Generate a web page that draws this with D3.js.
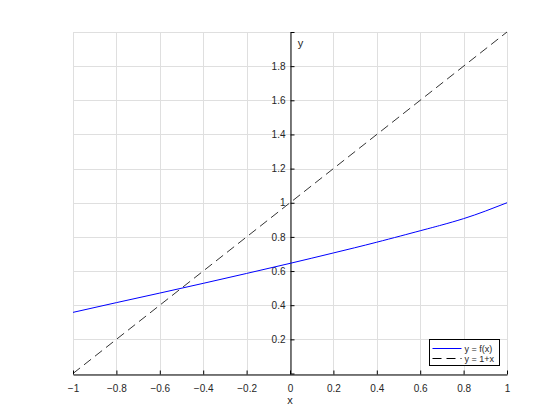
<!DOCTYPE html>
<html>
<meta charset="utf-8">
<script src="https://cdn.jsdelivr.net/npm/d3@7"></script>
<style>
  body { margin: 0; background: white; }
  text { font-family: "Liberation Sans", Arial, sans-serif; fill: #262626; }
</style>
<body>
<div id="chart"></div>
<script>
// values
var xs = [-1, -0.8, -0.6, -0.4, -0.2, 0, 0.2, 0.4, 0.6, 0.7, 0.8, 0.9, 1];
var fx = [0.358, 0.415, 0.471, 0.528, 0.586, 0.645, 0.706, 0.769, 0.836, 0.870, 0.907, 0.951, 1.0];
var lineX = [-1, 1];
var lineY = [0, 2];
var xTicks = [-1, -0.8, -0.6, -0.4, -0.2, 0, 0.2, 0.4, 0.6, 0.8, 1];
var yTicks = [0, 0.2, 0.4, 0.6, 0.8, 1, 1.2, 1.4, 1.6, 1.8, 2];
var legendLabels = ["y = f(x)", "y = 1+x"];

var width = 560, height = 420;
var svg = d3.select("#chart").append("svg")
  .attr("width", width).attr("height", height)
  .style("background", "white");

var x = d3.scaleLinear().domain([-1, 1]).range([73, 507]);
var y = d3.scaleLinear().domain([0, 2]).range([373.5, 32]);

// grid
var grid = svg.append("g").attr("stroke", "#dfdfdf").attr("stroke-width", 1);
grid.selectAll(".gx").data(xTicks).enter().append("line")
  .attr("x1", function(d){ return Math.round(x(d)) + 0.5 })
  .attr("x2", function(d){ return Math.round(x(d)) + 0.5 })
  .attr("y1", y(0)).attr("y2", y(2));
grid.selectAll(".gy").data(yTicks).enter().append("line")
  .attr("y1", function(d){ return Math.round(y(d)) + 0.5 })
  .attr("y2", function(d){ return Math.round(y(d)) + 0.5 })
  .attr("x1", x(-1)).attr("x2", x(1));

// axes through the origin, ticks pointing inward
var xAxis = d3.axisBottom(x).tickValues(xTicks).tickSizeInner(-4).tickSizeOuter(0)
  .tickPadding(8).tickFormat(function(d){ return d3.format("")(d) });
var gx = svg.append("g").attr("transform", "translate(0," + Math.round(y(0)) + ".5)").call(xAxis);
gx.select(".domain").attr("stroke", "#000");
gx.selectAll(".tick line").attr("stroke", "#000");
gx.selectAll(".tick text").attr("font-size", 10).attr("dy", "0.9em");

var yAxis = d3.axisLeft(y).tickValues(yTicks).tickSizeInner(-4).tickSizeOuter(0)
  .tickPadding(5).tickFormat(function(d){ return (d === 0 || d === 2) ? "" : d3.format("")(d) });
var gy = svg.append("g").attr("transform", "translate(" + Math.round(x(0)) + ".5,0)").call(yAxis);
gy.select(".domain").attr("stroke", "#000");
gy.selectAll(".tick line").attr("stroke", "#000");
gy.selectAll(".tick text").attr("font-size", 10);

svg.append("text").attr("x", x(0)).attr("y", 404).attr("text-anchor", "middle")
  .attr("font-size", 11).text("x");
svg.append("text").attr("x", 300.5).attr("y", 47).attr("text-anchor", "middle")
  .attr("font-size", 11).text("y");

// curves
var curve = d3.line().x(function(d){ return x(d[0]) }).y(function(d){ return y(d[1]) })
  .curve(d3.curveNatural);
svg.append("path").datum(xs.map(function(d, i){ return [d, fx[i]] }))
  .attr("d", curve).attr("fill", "none").attr("stroke", "#0000ff").attr("stroke-width", 1);

var straight = d3.line().x(function(d){ return x(d[0]) }).y(function(d){ return y(d[1]) });
svg.append("path").datum(lineX.map(function(d, i){ return [d, lineY[i]] }))
  .attr("d", straight).attr("fill", "none").attr("stroke", "#000")
  .attr("stroke-width", 0.8).attr("stroke-dasharray", "9,5");

// legend
var lg = svg.append("g").attr("transform", "translate(429.5,339.5)");
lg.append("rect").attr("width", 70).attr("height", 26)
  .attr("fill", "white").attr("stroke", "#000").attr("stroke-width", 1);
var rows = lg.selectAll(".row").data(legendLabels).enter().append("g")
  .attr("transform", function(d, i){ return "translate(0," + (9 + i * 10) + ")" });
rows.append("line").attr("x1", 3).attr("x2", 32).attr("y1", 0).attr("y2", 0)
  .attr("stroke", function(d, i){ return i === 0 ? "#0000ff" : "#000" })
  .attr("stroke-dasharray", function(d, i){ return i === 0 ? null : "9,5" });
rows.append("text").attr("x", 35).attr("y", 3.5).attr("font-size", 9)
  .text(function(d){ return d });
</script>
</body>
</html>
